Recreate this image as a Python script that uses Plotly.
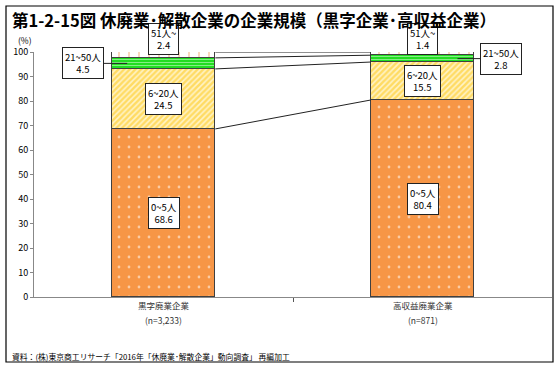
import numpy as np
import plotly.graph_objects as go

# ---- data ----
categories = ["黒字廃業企業", "高収益廃業企業"]
sample_sizes = ["(n=3,233)", "(n=871)"]
size_classes = ["0~5人", "6~20人", "21~50人", "51人~"]
values_kuroji = [68.6, 24.5, 4.5, 2.4]
values_koshueki = [80.4, 15.5, 2.8, 1.4]
y_ticks = [0, 10, 20, 30, 40, 50, 60, 70, 80, 90, 100]

title_text = "第1-2-15図 休廃業･解散企業の企業規模（黒字企業･高収益企業）"
source_text = "資料：(株)東京商工リサーチ「2016年「休廃業･解散企業」動向調査」 再編加工"

# ---- styles ----
W, H = 556, 365
ML, MR, MT, MB = 34, 4, 52, 68
PW, PH = W - ML - MR, H - MT - MB
BAR_W = 0.4
FONT = "Noto Sans CJK JP"

styles = [
    dict(shape=".", bgcolor="#F79646", fgcolor="white", size=10, solidity=0.06),
    dict(shape="/", bgcolor="#FFF3C8", fgcolor="#FFC400", size=4, solidity=0.62),
    dict(shape="-", bgcolor="#22DD22", fgcolor="#E8FFE8", size=3, solidity=0.35),
    dict(shape="|", bgcolor="white", fgcolor="#F07820", size=10, solidity=0.12),
]

series = np.array([values_kuroji, values_koshueki])  # (bar, class)
xs = np.arange(len(categories))

fig = go.Figure()
for j, name in enumerate(size_classes):
    st = styles[j]
    fig.add_trace(go.Bar(
        x=xs, y=series[:, j], width=BAR_W, name=name,
        marker=dict(color=st["bgcolor"],
                    pattern=dict(shape=st["shape"], bgcolor=st["bgcolor"], fgcolor=st["fgcolor"],
                                 size=st["size"], solidity=st["solidity"], fillmode="overlay"),
                    line=dict(color="#404040", width=1)),
        hoverinfo="skip", showlegend=False,
    ))

# connector lines between bars
cum = np.cumsum(series, axis=1)
for j in range(len(size_classes)):
    fig.add_trace(go.Scatter(
        x=[xs[0] + BAR_W / 2, xs[1] - BAR_W / 2],
        y=[cum[0, j], min(cum[1, j], 100)],
        mode="lines", line=dict(color="#222222", width=1),
        showlegend=False, hoverinfo="skip", cliponaxis=False,
    ))

ann = []
box = dict(bgcolor="white", bordercolor="#222222", borderwidth=1, borderpad=2,
           font=dict(family=FONT, size=9.5, color="#000000"))

for i in range(len(categories)):
    starts = cum[i] - series[i]
    mids = starts + series[i] / 2
    for j in (0, 1):
        ann.append(dict(x=xs[i], y=mids[j], xref="x", yref="y",
                        text=f"{size_classes[j]}<br>{series[i, j]:.1f}",
                        showarrow=False, **box))
    ann.append(dict(x=xs[i], y=100, xref="x", yref="y", yshift=13,
                    text=f"{size_classes[3]}<br>{series[i, 3]:.1f}",
                    showarrow=False, **box))
    if i == 0:
        px = xs[i] - BAR_W / 2 + 0.06
        axo = -44
    else:
        px = xs[i] + BAR_W / 2 - 0.065
        axo = 44
    ann.append(dict(x=px, y=mids[2], xref="x", yref="y",
                    text=f"{size_classes[2]}<br>{series[i, 2]:.1f}",
                    showarrow=True, arrowhead=0, arrowwidth=1, arrowcolor="#222222",
                    ax=axo, ay=0, **box))
    ann.append(dict(x=xs[i], y=-(312.5 - (MT + PH)) / PH, xref="x", yref="paper",
                    text=categories[i], showarrow=False,
                    font=dict(family=FONT, size=8.5, color="#333333")))
    ann.append(dict(x=xs[i], y=-(327.5 - (MT + PH)) / PH, xref="x", yref="paper",
                    text=sample_sizes[i], showarrow=False,
                    font=dict(family=FONT, size=8.5, color="#333333")))

def px_x(p):
    return (p - ML) / PW

def px_y(p):
    return (MT + PH - p) / PH

ann.append(dict(x=px_x(10), y=px_y(20), xref="paper", yref="paper",
                xanchor="left", yanchor="middle", showarrow=False,
                text=f"<b>{title_text}</b>",
                font=dict(family=FONT, size=16.5, color="#000000")))
ann.append(dict(x=px_x(25), y=px_y(40), xref="paper", yref="paper",
                xanchor="center", yanchor="middle", showarrow=False,
                text="(%)", font=dict(family=FONT, size=8.5, color="#000000")))
ann.append(dict(x=px_x(10), y=px_y(356), xref="paper", yref="paper",
                xanchor="left", yanchor="middle", showarrow=False,
                text=source_text, font=dict(family=FONT, size=7.8, color="#000000")))

fig.update_layout(
    width=W, height=H,
    margin=dict(l=ML, r=MR, t=MT, b=MB),
    paper_bgcolor="white", plot_bgcolor="white",
    barmode="stack", bargap=0,
    annotations=ann,
    shapes=[dict(type="rect", xref="paper", yref="paper",
                 x0=px_x(6), x1=px_x(553), y0=px_y(362), y1=px_y(6),
                 line=dict(color="#000000", width=1.2), fillcolor="rgba(0,0,0,0)", layer="below")],
    xaxis=dict(range=[-0.5, 1.5], tickvals=[], showline=True, linecolor="#888888",
               showgrid=False, zeroline=False, ticks="",
               minor=dict(tickvals=[0.5], ticks="outside", ticklen=4, tickcolor="#555555")),
    yaxis=dict(range=[0, 100], tickvals=y_ticks, showline=True, linecolor="#888888",
               showgrid=False, zeroline=False, ticks="outside", ticklen=3, tickcolor="#888888",
               tickfont=dict(family=FONT, size=9, color="#000000")),
)

fig.write_html("out.html", config={"displayModeBar": False},
               post_script="document.body.style.margin='0px';document.body.style.overflow='hidden';")
